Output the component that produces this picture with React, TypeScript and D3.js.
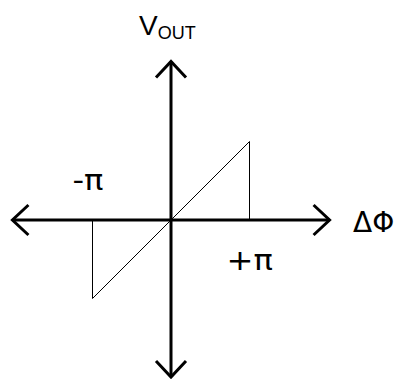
import React from "react";
import * as d3 from "d3";

const rampPoints: [number, number][] = [
  [-1, 0],
  [-1, -1],
  [1, 1],
  [1, 0],
];
const axisExtent = [-2.02, 2.02];
const xLabels = [
  { text: "-π", x: -1, side: "above" },
  { text: "+π", x: 1, side: "below" },
];
const xAxisTitle = "ΔΦ";
const yAxisTitleMain = "V";
const yAxisTitleSub = "OUT";

export default function App() {
  const W = 404;
  const H = 382;
  const cx = 171;
  const cy = 220;
  const unit = 78.5;
  const x = d3.scaleLinear().domain([-1, 1]).range([cx - unit, cx + unit]);
  const y = d3.scaleLinear().domain([-1, 1]).range([cy + unit, cy - unit]);
  const line = d3
    .line<[number, number]>()
    .x((d) => x(d[0]))
    .y((d) => y(d[1]));

  const x0 = x(axisExtent[0]);
  const x1 = x(axisExtent[1]);
  const yTop = y(axisExtent[1]);
  const yBot = Math.min(y(axisExtent[0]), 377);
  const a = 16;
  const b = 15;
  const font = "'Liberation Sans', Arial, sans-serif";
  const font2 = "'DejaVu Sans', sans-serif";

  return (
    <svg
      width={W}
      height={H}
      style={{ position: "absolute", left: 0, top: 0, background: "#fff" }}
    >
      {/* horizontal axis */}
      <line x1={x0} y1={cy} x2={x1} y2={cy} stroke="#000" strokeWidth={3} />
      <polyline
        points={`${x0 + a},${cy - b} ${x0},${cy} ${x0 + a},${cy + b}`}
        fill="none"
        stroke="#000"
        strokeWidth={3}
      />
      <polyline
        points={`${x1 - a},${cy - b} ${x1},${cy} ${x1 - a},${cy + b}`}
        fill="none"
        stroke="#000"
        strokeWidth={3}
      />
      {/* vertical axis */}
      <line x1={cx} y1={yTop} x2={cx} y2={yBot} stroke="#000" strokeWidth={3} />
      <polyline
        points={`${cx - b},${yTop + a} ${cx},${yTop} ${cx + b},${yTop + a}`}
        fill="none"
        stroke="#000"
        strokeWidth={3}
      />
      <polyline
        points={`${cx - b},${yBot - a} ${cx},${yBot} ${cx + b},${yBot - a}`}
        fill="none"
        stroke="#000"
        strokeWidth={3}
      />
      {/* ramp */}
      <path d={line(rampPoints) || ""} fill="none" stroke="#000" strokeWidth={1} />
      {/* labels */}
      {xLabels.map((l) => (
        <text
          key={l.text}
          transform={`translate(${l.side === "above" ? x(l.x) - 20 : x(l.x) - 23},${
            l.side === "above" ? 190 : 270
          }) scale(1.15,1)`}
          fontFamily={font2}
          fontSize={28}
        >
          {l.text}
        </text>
      ))}
      <text x={353} y={232} fontFamily={font2} fontSize={28}>
        {xAxisTitle}
      </text>
      <text x={139} y={35} fontFamily={font} fontSize={28}>
        {yAxisTitleMain}
        <tspan fontSize={18} dy={4}>
          {yAxisTitleSub}
        </tspan>
      </text>
    </svg>
  );
}
